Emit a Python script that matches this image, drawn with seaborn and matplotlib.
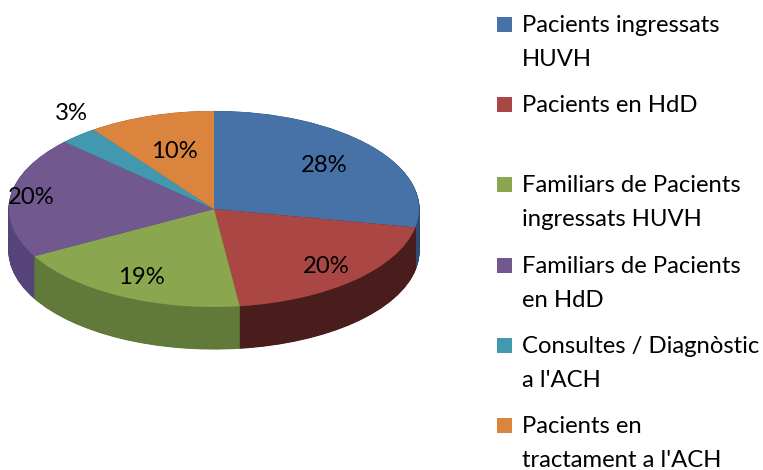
import numpy as np
import matplotlib.pyplot as plt
import seaborn as sns
from matplotlib.patches import Rectangle

# data
categories = [
    "Pacients ingressats\nHUVH",
    "Pacients en HdD",
    "Familiars de Pacients\ningressats HUVH",
    "Familiars de Pacients\nen HdD",
    "Consultes / Diagnòstic\na l'ACH",
    "Pacients en\ntractament a l'ACH",
]
shares = [28, 20, 19, 20, 3, 10]

top_colors = sns.color_palette(["#4672a8", "#aa4644", "#8aa64f", "#71598f", "#4198af", "#db843d"])
side_colors = sns.color_palette(["#2f4d74", "#4a1d1d", "#617a39", "#56437a", "#2c6a7a", "#9c5a27"])

sns.set_theme(style="white")
plt.rcParams["font.family"] = ["Lato", "DejaVu Sans"]
FS = 17.2

W, H = 763, 470
fig = plt.figure(figsize=(W / 100, H / 100), dpi=100)

# pie box in pixels: x 9..419, top face 111..307, side wall ~42px deep
depth = 42 / 98
ax = fig.add_axes([9 / W, (H - 349) / H, 410 / W, 238 / H])

# side wall: stack of darker pies pushed downwards
for t in np.linspace(-depth, 0, 90)[:-1]:
    wedges, _ = ax.pie(shares, colors=side_colors, startangle=90, counterclock=False,
                       center=(0, t), wedgeprops=dict(linewidth=0))
    for w, c in zip(wedges, side_colors):
        w.set_edgecolor(c)
        w.set_linewidth(0.8)

# top face
wedges, texts, autotexts = ax.pie(shares, colors=top_colors, startangle=90, counterclock=False,
                                  autopct="%.0f%%", pctdistance=0.75,
                                  wedgeprops=dict(linewidth=0),
                                  textprops=dict(fontsize=FS, color="black"))

# per-slice label placement (Excel style): distance and small angle shift
label_radius = [0.70, 0.80, 0.78, 0.90, 1.20, 0.62]
label_shift = [0, 0, 0, 0, -6, 0]
for w, txt, r, s in zip(wedges, autotexts, label_radius, label_shift):
    mid = np.deg2rad((w.theta1 + w.theta2) / 2 + s)
    txt.set_position((r * np.cos(mid), r * np.sin(mid)))

for p in ax.patches:
    p.set_clip_on(False)

ax.set_aspect("auto")
ax.set_xlim(-1, 1)
ax.set_ylim(-1 - depth, 1)
ax.axis("off")

# legend, drawn like Excel: fixed row height, text top aligned
for i, (lab, c) in enumerate(zip(categories, top_colors)):
    base = 32 + 80.2 * i
    fig.add_artist(Rectangle((497 / W, 1 - base / H), 15 / W, 15 / H,
                             transform=fig.transFigure, color=c, lw=0))
    for j, line in enumerate(lab.split("\n")):
        fig.text(522 / W, 1 - (base + 34 * j) / H, line, fontsize=FS,
                 va="baseline", ha="left", color="black")

fig.savefig("out.png", dpi=100)
